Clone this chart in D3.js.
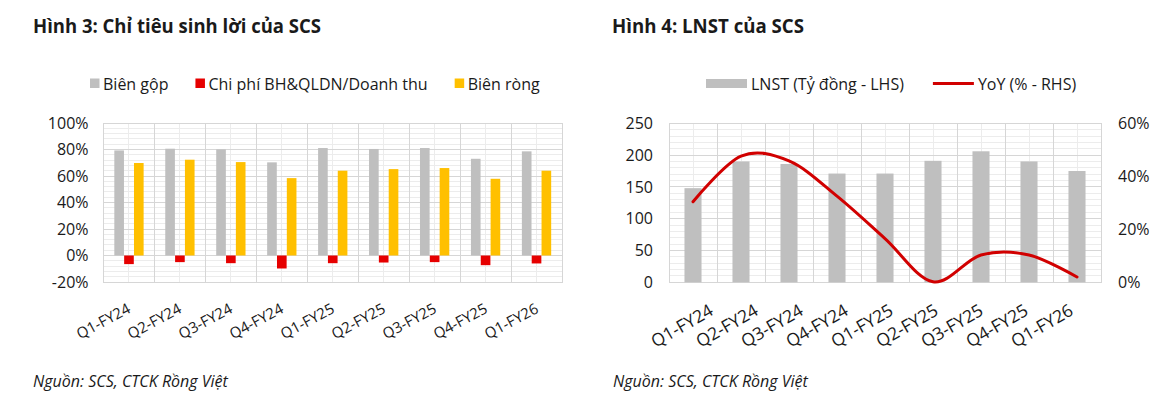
<!DOCTYPE html>
<html><head><meta charset="utf-8">
<script src="https://cdn.jsdelivr.net/npm/d3@7"></script>
<style>
body{margin:0;background:#fff}
svg{display:block}
text{font-family:"Open Sans",sans-serif;fill:#1a1a1a}
</style>
</head><body>
<svg id="c" width="1170" height="411"></svg>
<script>
// ---------- DATA ----------
const categories = ["Q1-FY24","Q2-FY24","Q3-FY24","Q4-FY24","Q1-FY25","Q2-FY25","Q3-FY25","Q4-FY25","Q1-FY26"];
const grossMargin = [0.793,0.806,0.801,0.703,0.811,0.804,0.811,0.730,0.786];
const sgaRatio    = [-0.065,-0.050,-0.058,-0.098,-0.058,-0.053,-0.050,-0.073,-0.060];
const netMargin   = [0.698,0.723,0.705,0.584,0.640,0.652,0.660,0.579,0.640];
const npat        = [148,190,186,171,171,191,206,190,175];
const yoyGrowth   = [0.304,0.476,0.458,0.325,0.165,0.002,0.103,0.103,0.020];
const marginTicks = [-0.2,0,0.2,0.4,0.6,0.8,1.0];
const npatTicks   = [0,50,100,150,200,250];
const yoyTicks    = [0,0.2,0.4,0.6];
const leftSeries  = ["Biên gộp","Chi phí BH&QLDN/Doanh thu","Biên ròng"];
const rightSeries = ["LNST (Tỷ đồng - LHS)","YoY (% - RHS)"];
const titles  = ["Hình 3: Chỉ tiêu sinh lời của SCS","Hình 4: LNST của SCS"];
const source  = "Nguồn: SCS, CTCK Rồng Việt";

// ---------- STYLE ----------
const C = {gray:"#bfbfbf", red:"#e60000", yellow:"#ffc000", line:"#d10000",
           major:"#d6d6d6", minor:"#ececec", text:"#1a1a1a"};
const svg = d3.select("#c");
const pct = d => Math.round(d*100) + "%";

function fit(t, w){
  const fs = parseFloat(t.attr("font-size"));
  const cur = t.node().getComputedTextLength();
  if (cur > 0) t.attr("font-size", (fs*w/cur).toFixed(2));
}

function grid(g, x, y, minorTicks, majorTicks){
  const [x0,x1] = x.range(), [y0,y1] = y.range();
  g.selectAll(".hmin").data(minorTicks).join("line")
    .attr("x1",x0).attr("x2",x1).attr("y1",d=>y(d)).attr("y2",d=>y(d))
    .attr("stroke",C.minor).attr("stroke-width",1).attr("shape-rendering","crispEdges");
  g.selectAll(".vmin").data(x.domain()).join("line")
    .attr("x1",d=>x(d)+x.bandwidth()/2).attr("x2",d=>x(d)+x.bandwidth()/2)
    .attr("y1",y0).attr("y2",y1)
    .attr("stroke",C.minor).attr("stroke-width",1).attr("shape-rendering","crispEdges");
  g.selectAll(".hmaj").data(majorTicks).join("line")
    .attr("x1",x0).attr("x2",x1).attr("y1",d=>y(d)).attr("y2",d=>y(d))
    .attr("stroke",C.major).attr("stroke-width",1).attr("shape-rendering","crispEdges");
  g.selectAll(".vmaj").data(x.domain()).join("line")
    .attr("x1",d=>x(d)+x.bandwidth()).attr("x2",d=>x(d)+x.bandwidth())
    .attr("y1",y0).attr("y2",y1)
    .attr("stroke",C.major).attr("stroke-width",1).attr("shape-rendering","crispEdges");
  g.append("rect").attr("x",x0).attr("y",y1).attr("width",x1-x0).attr("height",y0-y1)
    .attr("fill","none").attr("stroke",C.major).attr("shape-rendering","crispEdges");
}

function catLabels(g, scale, y, fs, angle){
  const ax = g.append("g").attr("transform",`translate(0,${y})`)
    .call(d3.axisBottom(scale).tickSize(0).tickPadding(0));
  ax.select(".domain").remove();
  ax.selectAll("text").attr("y",0).attr("dy",0).attr("text-anchor","end")
    .attr("transform",`rotate(${angle})`).attr("font-size",fs)
    .attr("font-family","Open Sans").attr("fill",C.text);
}

function title(x, y, s, w){
  svg.append("text").attr("x",x).attr("y",y).attr("font-size",20)
    .attr("font-weight",700).attr("textLength",w).attr("lengthAdjust","spacingAndGlyphs").text(s);
}

// ================= LEFT CHART =================
{
  const x = d3.scaleBand().domain(categories).range([103.5,562]);
  const y = d3.scaleLinear().domain([-0.2,1.0]).range([282,123]);
  const x1 = d3.scaleBand().domain(leftSeries).range([0,x.bandwidth()]).paddingInner(0.02).paddingOuter(1.1);
  const g = svg.append("g");
  grid(g, x, y, d3.range(-0.2,1.0001,0.04), marginTicks);

  const vals = [grossMargin, sgaRatio, netMargin];
  const cols = [C.gray, C.red, C.yellow];
  leftSeries.forEach((s,i)=>{
    g.append("g").selectAll("rect").data(categories).join("rect")
      .attr("x",(c)=>x(c)+x1(s))
      .attr("width",x1.bandwidth())
      .attr("y",(c,j)=>y(Math.max(0,vals[i][j])))
      .attr("height",(c,j)=>Math.abs(y(vals[i][j])-y(0)))
      .attr("fill",cols[i]);
  });

  const ay = g.append("g").attr("transform",`translate(${x.range()[0]},0)`)
    .call(d3.axisLeft(y).tickValues(marginTicks).tickFormat(pct).tickSize(0).tickPadding(15));
  ay.select(".domain").remove();
  ay.selectAll("text").attr("font-size",16).attr("font-family","Open Sans").attr("fill",C.text);

  const lab = d3.scalePoint().domain(categories).range([131,539]);
  catLabels(g, lab, 312, 15, -28);

  title(33, 33, titles[0], 288);

  // legend
  let lx = 90;
  leftSeries.forEach((s,i)=>{
    svg.append("rect").attr("x",lx).attr("y",78.5).attr("width",9.5).attr("height",9.5).attr("fill",cols[i]);
    const tx = svg.append("text").attr("x",lx+13).attr("y",90).attr("font-size",16).text(s);
    lx += 13 + tx.node().getComputedTextLength() + 27;
  });

  const f = svg.append("text").attr("x",33).attr("y",387).attr("font-size",15)
    .attr("font-style","italic").text(source);
  fit(f, 195);
}

// ================= RIGHT CHART =================
{
  const x = d3.scaleBand().domain(categories).range([669,1101]);
  const xb = d3.scaleBand().domain(categories).range([669,1101]).paddingInner(0.645).paddingOuter(0.3225);
  const y = d3.scaleLinear().domain([0,250]).range([282.3,123.3]);
  const y2 = d3.scaleLinear().domain([0,0.6]).range([282.3,123.3]);
  const g = svg.append("g");
  grid(g, x, y, d3.range(0,250.001,10), npatTicks);

  g.append("g").selectAll("rect").data(categories).join("rect")
    .attr("x",c=>xb(c)).attr("width",xb.bandwidth())
    .attr("y",(c,j)=>y(npat[j])).attr("height",(c,j)=>y(0)-y(npat[j]))
    .attr("fill",C.gray);

  const line = d3.line()
    .x((d,j)=>x(categories[j])+x.bandwidth()/2)
    .y(d=>y2(d))
    .curve(d3.curveCardinal.tension(0));
  g.append("path").datum(yoyGrowth).attr("d",line)
    .attr("fill","none").attr("stroke",C.line).attr("stroke-width",3).attr("stroke-linecap","round");

  const al = g.append("g").attr("transform",`translate(669,0)`)
    .call(d3.axisLeft(y).tickValues(npatTicks).tickSize(0).tickPadding(16));
  al.select(".domain").remove();
  al.selectAll("text").attr("font-size",16).attr("font-family","Open Sans").attr("fill",C.text);

  const ar = g.append("g").attr("transform",`translate(1101,0)`)
    .call(d3.axisRight(y2).tickValues(yoyTicks).tickFormat(pct).tickSize(0).tickPadding(17));
  ar.select(".domain").remove();
  ar.selectAll("text").attr("font-size",16).attr("font-family","Open Sans").attr("fill",C.text);

  const lab = d3.scalePoint().domain(categories).range([714,1074]);
  catLabels(g, lab, 314, 17.5, -30);

  title(612, 33, titles[1], 192);

  // legend
  svg.append("rect").attr("x",706).attr("y",79).attr("width",41).attr("height",9).attr("fill",C.gray);
  const t1 = svg.append("text").attr("x",751).attr("y",90).attr("font-size",16).text(rightSeries[0]);
  const e1 = 751 + t1.node().getComputedTextLength();
  svg.append("line").attr("x1",e1+29).attr("x2",e1+70).attr("y1",83.5).attr("y2",83.5)
    .attr("stroke",C.line).attr("stroke-width",3);
  svg.append("text").attr("x",e1+74).attr("y",90).attr("font-size",16).text(rightSeries[1]);

  const f = svg.append("text").attr("x",613).attr("y",387).attr("font-size",15)
    .attr("font-style","italic").text(source);
  fit(f, 195);
}
</script>
</body></html>
